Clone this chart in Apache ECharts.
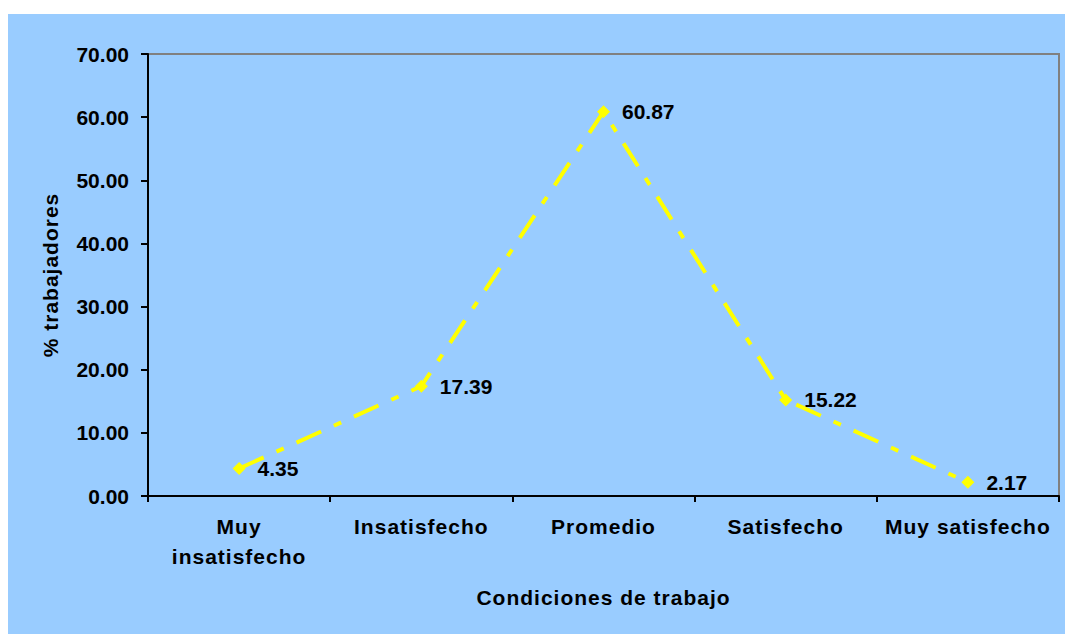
<!DOCTYPE html>
<html>
<head>
<meta charset="utf-8">
<script src="https://cdn.jsdelivr.net/npm/echarts@6/dist/echarts.min.js"></script>
<style>
  html, body { margin: 0; padding: 0; background: #ffffff; }
  #panel { position: absolute; left: 8px; top: 14px; width: 1057px; height: 620px; background: #99ccff; }
  #chart { position: absolute; left: 0; top: 0; width: 1065px; height: 634px; }
  /* word labels are set slightly tracked out; numeric labels keep normal spacing */
  #chart svg text { letter-spacing: 1px; }
  #chart svg text[style*="sans-serif"] { letter-spacing: 0; }
</style>
</head>
<body>
<div id="panel"></div>
<div id="chart"></div>
<script>
// Working-conditions survey: share of workers per satisfaction level
const categories = ['Muy\ninsatisfecho', 'Insatisfecho', 'Promedio', 'Satisfecho', 'Muy satisfecho'];
const percentages = [4.35, 17.39, 60.87, 15.22, 2.17];
const yTicks = { min: 0, max: 70, interval: 10 };

const WORD_FONT = 'Liberation Sans';
const NUM_FONT = 'Liberation Sans, sans-serif';
const chart = echarts.init(document.getElementById('chart'), null, { renderer: 'svg' });

chart.setOption({
  backgroundColor: 'transparent',
  animation: false,
  grid: { left: 148, top: 54, right: 6, bottom: 138, show: true, borderColor: '#808080', borderWidth: 2, backgroundColor: 'transparent' },
  xAxis: {
    type: 'category',
    data: categories,
    boundaryGap: true,
    name: 'Condiciones de trabajo',
    nameLocation: 'middle',
    nameGap: 91,
    nameTextStyle: { color: '#000', fontFamily: WORD_FONT, fontWeight: 'bold', fontSize: 21 },
    axisLine: { lineStyle: { color: '#000', width: 2 } },
    axisTick: { show: true, length: 6, alignWithLabel: false, lineStyle: { color: '#000', width: 2 } },
    axisLabel: { color: '#000', fontFamily: WORD_FONT, fontWeight: 'bold', fontSize: 21, margin: 15, lineHeight: 30, interval: 0 },
    splitLine: { show: false }
  },
  yAxis: {
    type: 'value',
    min: yTicks.min,
    max: yTicks.max,
    interval: yTicks.interval,
    name: '% trabajadores',
    nameLocation: 'middle',
    nameGap: 87,
    nameTextStyle: { color: '#000', fontFamily: WORD_FONT, fontWeight: 'bold', fontSize: 21 },
    axisLine: { show: true, lineStyle: { color: '#000', width: 2 } },
    axisTick: { show: true, length: 7, lineStyle: { color: '#000', width: 2 } },
    axisLabel: { color: '#000', fontFamily: NUM_FONT, fontWeight: 'bold', fontSize: 21, margin: 19, formatter: v => v.toFixed(2) },
    splitLine: { show: false }
  },
  series: [{
    type: 'line',
    data: percentages,
    symbol: 'diamond',
    symbolSize: 13,
    itemStyle: { color: '#ffff00' },
    lineStyle: { color: '#ffff00', width: 4, type: [27, 14, 8, 14] },
    label: {
      show: true,
      position: 'right',
      distance: 12,
      color: '#000',
      fontFamily: NUM_FONT,
      fontWeight: 'bold',
      fontSize: 21,
      formatter: p => p.value.toFixed(2)
    }
  }]
});
</script>
</body>
</html>
